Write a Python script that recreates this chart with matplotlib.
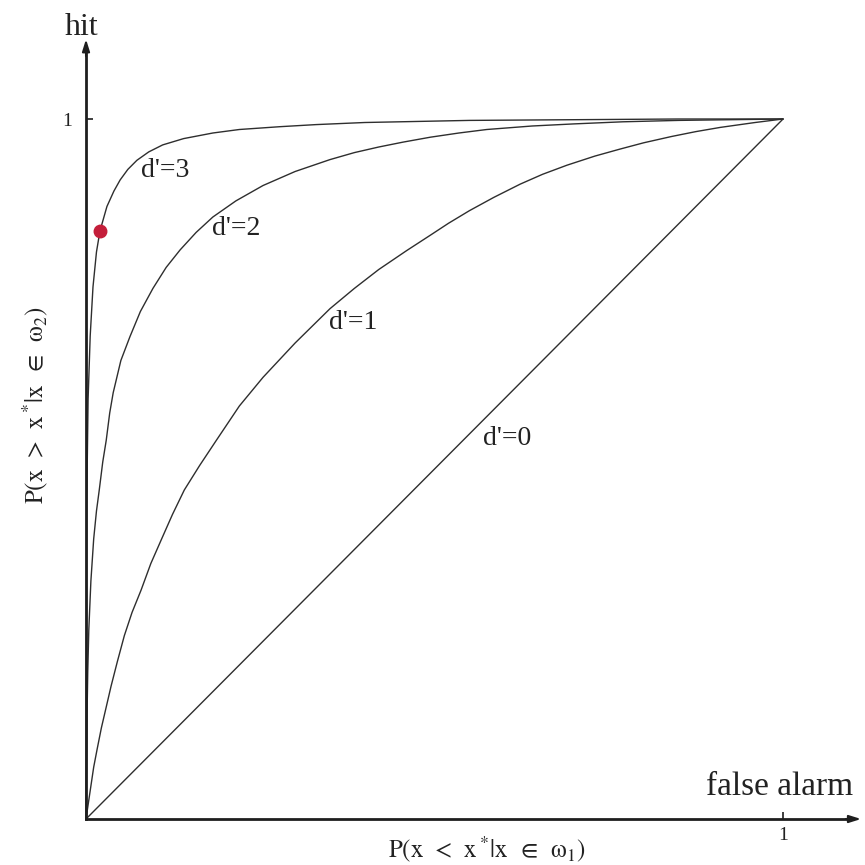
import matplotlib
matplotlib.use("Agg")
import matplotlib.pyplot as plt

plt.rcParams["font.family"] = ["Liberation Serif", "DejaVu Serif"]
plt.rcParams["mathtext.fontset"] = "stix"

# ROC curves: false-alarm rate vs hit rate for several sensitivities d'
fa_d3 = [0, 0.001, 0.003, 0.006, 0.010, 0.015, 0.020, 0.030, 0.040, 0.049,
         0.060, 0.073, 0.090, 0.110, 0.140, 0.182, 0.220, 0.278, 0.330, 0.40,
         0.55, 0.70, 0.85, 1.0]
hit_d3 = [0, 0.45, 0.60, 0.69, 0.76, 0.81, 0.84, 0.875, 0.897, 0.913,
          0.928, 0.941, 0.953, 0.963, 0.972, 0.980, 0.985, 0.989, 0.992, 0.995,
          0.998, 0.999, 1.0, 1.0]

fa_d2 = [0, 0.0015, 0.0025, 0.004, 0.007, 0.011, 0.015, 0.019, 0.024, 0.029,
         0.034, 0.039, 0.050, 0.063, 0.078, 0.096, 0.115, 0.135, 0.158, 0.182,
         0.215, 0.254, 0.30, 0.35, 0.385, 0.42, 0.455, 0.494, 0.535, 0.575,
         0.64, 0.70, 0.77, 0.85, 1.0]
hit_d2 = [0, 0.15, 0.21, 0.27, 0.34, 0.40, 0.44, 0.47, 0.51, 0.541,
          0.58, 0.609, 0.655, 0.689, 0.725, 0.758, 0.788, 0.813, 0.838, 0.86,
          0.883, 0.905, 0.925, 0.942, 0.952, 0.96, 0.967, 0.974, 0.980, 0.985,
          0.990, 0.993, 0.996, 0.998, 1.0]

fa_d1 = [0, 0.004, 0.011, 0.016, 0.022, 0.029, 0.036, 0.045, 0.055, 0.066,
         0.079, 0.093, 0.108, 0.124, 0.141, 0.163, 0.187, 0.22, 0.254, 0.30,
         0.35, 0.385, 0.42, 0.46, 0.494, 0.52, 0.55, 0.585, 0.623, 0.655,
         0.69, 0.73, 0.766, 0.80, 0.84, 0.875, 0.91, 0.96, 1.0]
hit_d1 = [0, 0.027, 0.074, 0.10, 0.13, 0.16, 0.19, 0.225, 0.262, 0.295,
          0.327, 0.365, 0.399, 0.435, 0.47, 0.505, 0.541, 0.59, 0.631, 0.68,
          0.729, 0.758, 0.785, 0.812, 0.834, 0.851, 0.869, 0.888, 0.907, 0.921,
          0.934, 0.947, 0.957, 0.966, 0.975, 0.982, 0.988, 0.995, 1.0]

fa_d0 = [0, 1.0]
hit_d0 = [0, 1.0]

curve_labels = ["d'=3", "d'=2", "d'=1", "d'=0"]
label_pos = [(0.079, 0.927), (0.181, 0.844), (0.349, 0.710), (0.569, 0.543)]

# operating point marked on the d'=3 curve
point_fa = [0.020]
point_hit = [0.840]

tick_values = [1]
tick_labels = ["1"]

fig = plt.figure(figsize=(8.65, 8.65), dpi=100)
ax = fig.add_axes([0, 0, 1, 1])
ax.set_xlim(-0.1234, 1.1176)
ax.set_ylim(-0.0657, 1.17)
ax.set_facecolor("white")

curve_color = "#2e2e2e"
for fa, hit in [(fa_d3, hit_d3), (fa_d2, hit_d2), (fa_d1, hit_d1), (fa_d0, hit_d0)]:
    ax.plot(fa, hit, color=curve_color, lw=1.0, solid_joinstyle="round",
            solid_capstyle="round", zorder=2)

for text, (x, y) in zip(curve_labels, label_pos):
    ax.text(x, y, text, fontsize=20, ha="left", va="center", color="#222222")

ax.plot(point_fa, point_hit, "o", color="#c41e3a", markersize=9, zorder=4)

# axes through the origin, with arrowheads
axis_color = "#1e1e1e"
for side in ["top", "right"]:
    ax.spines[side].set_visible(False)
ax.spines["left"].set_position(("data", 0))
ax.spines["bottom"].set_position(("data", 0))
ax.spines["left"].set_bounds(0, 1.10)
ax.spines["bottom"].set_bounds(0, 1.10)
for side in ["left", "bottom"]:
    ax.spines[side].set_linewidth(2.0)
    ax.spines[side].set_color(axis_color)
    ax.spines[side].set_zorder(3)

ax.annotate("", xy=(0, 1.114), xytext=(0, 1.09),
            arrowprops=dict(arrowstyle="-|>,head_length=0.7,head_width=0.22",
                            color=axis_color, lw=1.5, shrinkA=0, shrinkB=0))
ax.annotate("", xy=(1.112, 0), xytext=(1.09, 0),
            arrowprops=dict(arrowstyle="-|>,head_length=0.7,head_width=0.22",
                            color=axis_color, lw=1.5, shrinkA=0, shrinkB=0))

ax.set_xticks(tick_values)
ax.set_xticklabels(tick_labels)
ax.set_yticks(tick_values)
ax.set_yticklabels(tick_labels)
ax.tick_params(axis="both", direction="in", length=5, width=1.2,
               color=axis_color, labelsize=14, labelcolor="#222222")
ax.tick_params(axis="x", pad=6)
ax.tick_params(axis="y", pad=10)

ax.text(-0.030, 1.12, "hit", fontsize=23, ha="left", va="baseline", color="#222222")
ax.text(0.890, 0.034, "false alarm", fontsize=24, ha="left", va="baseline", color="#222222")

ax.text(0.576, -0.055, r"$\mathrm{P(x\;\,<\;\,x\,^{*}|x\;\;\in\;\;\omega_1)}$", fontsize=18,
        ha="center", va="baseline", color="#222222")
ax.text(-0.073, 0.591, r"$\mathrm{P(x\;\,>\;\,x\,^{*}|x\;\;\in\;\;\omega_2)}$", fontsize=18,
        ha="center", va="center", rotation=90, color="#222222")

fig.savefig("out.png", dpi=100, facecolor="white")
